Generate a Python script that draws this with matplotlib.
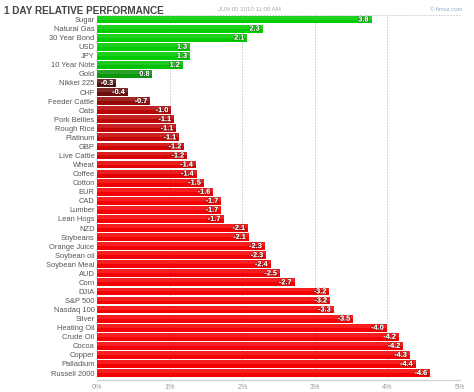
import numpy as np
import matplotlib
matplotlib.use('Agg')
import matplotlib.pyplot as plt
from matplotlib.colors import to_rgb
import matplotlib.patheffects as pe

# datos de la tabla (cambio % en 1 dia)
nombres = ['Sugar', 'Natural Gas', '30 Year Bond', 'USD', 'JPY', '10 Year Note', 'Gold',
           'Nikkei 225', 'CHF', 'Feeder Cattle', 'Oats', 'Pork Bellies', 'Rough Rice',
           'Platinum', 'GBP', 'Live Cattle', 'Wheat', 'Coffee', 'Cotton', 'EUR', 'CAD',
           'Lumber', 'Lean Hogs', 'NZD', 'Soybeans', 'Orange Juice', 'Soybean oil',
           'Soybean Meal', 'AUD', 'Corn', 'DJIA', 'S&P 500', 'Nasdaq 100', 'Silver',
           'Heating Oil', 'Crude Oil', 'Cocoa', 'Copper', 'Palladium', 'Russell 2000']
valores = [3.78, 2.28, 2.07, 1.28, 1.28, 1.18, 0.76,
           -0.26, -0.42, -0.73, -1.02, -1.06, -1.09,
           -1.13, -1.2, -1.24, -1.36, -1.37, -1.47, -1.6, -1.71,
           -1.71, -1.74, -2.08, -2.09, -2.31, -2.33,
           -2.39, -2.52, -2.72, -3.2, -3.21, -3.26, -3.53,
           -3.99, -4.16, -4.22, -4.31, -4.39, -4.59]
ticks = [0, 1, 2, 3, 4, 5]
tick_labels = ['0%', '1%', '2%', '3%', '4%', '5%']


def color_barra(v):
    if v >= 0:
        t = min(v / 1.3, 1.0)
        c0, c1 = np.array(to_rgb('#1a4a1a')), np.array(to_rgb('#00cc00'))
    else:
        t = min(abs(v) / 1.5, 1.0)
        c0, c1 = np.array(to_rgb('#3a1010')), np.array(to_rgb('#f50000'))
    return tuple(c0 + (c1 - c0) * t)


plt.rcParams['font.family'] = ['Liberation Sans', 'DejaVu Sans']

fig = plt.figure(figsize=(4.74, 3.92), dpi=100)
ax = fig.add_axes([0.2053, 0.0306, 0.7652, 0.9311])

y = np.arange(len(nombres))
largos = [abs(v) for v in valores]
colores = [color_barra(v) for v in valores]
ax.barh(y, largos, height=0.86, color=colores, zorder=3)
# brillo en la mitad de arriba
ax.barh(y - 0.215, largos, height=0.43, color='white', alpha=0.12, zorder=4, linewidth=0)

for yi, v in zip(y, valores):
    ax.text(abs(v) - 0.04, yi + 0.05, f'{v:.1f}', ha='right', va='center', color='white',
            fontsize=5.3, fontweight='bold', zorder=5,
            path_effects=[pe.withStroke(linewidth=1.0, foreground=(0, 0, 0, 0.35))])

ax.set_xlim(0, 5)
ax.set_ylim(39.77, -0.5)
ax.set_yticks(y)
ax.set_yticklabels(nombres, fontsize=5.4, color='#555555')
ax.set_xticks(ticks)
ax.set_xticklabels(tick_labels, fontsize=5.2, color='#999999')
ax.tick_params(axis='both', length=0, pad=2)
ax.tick_params(axis='x', pad=3)

for x in ticks[1:]:
    ax.axvline(x, color='#c8c8c8', linestyle=(0, (1.5, 1.5)), linewidth=0.7, zorder=1)
for lado in ['left', 'right', 'top']:
    ax.spines[lado].set_visible(False)
ax.plot([0, 5], [-0.5, -0.5], color='#c8c8c8', linestyle=(0, (1.5, 1.5)), linewidth=0.7,
        zorder=1, clip_on=False)
ax.spines['bottom'].set_color('#d0d0d0')
ax.spines['bottom'].set_linewidth(0.8)

fig.text(0.008, 0.984, '1 DAY RELATIVE PERFORMANCE', fontsize=7.2, fontweight='bold',
         color='#444444', va='top', ha='left')
fig.text(0.46, 0.982, 'JUN 05 2010 11:08 AM', fontsize=4.4, color='#aaaaaa', va='top', ha='left')
fig.text(0.976, 0.982, '© finviz.com', fontsize=4.2, color='#8aaed8', va='top', ha='right')

fig.savefig('out.png', dpi=100)
